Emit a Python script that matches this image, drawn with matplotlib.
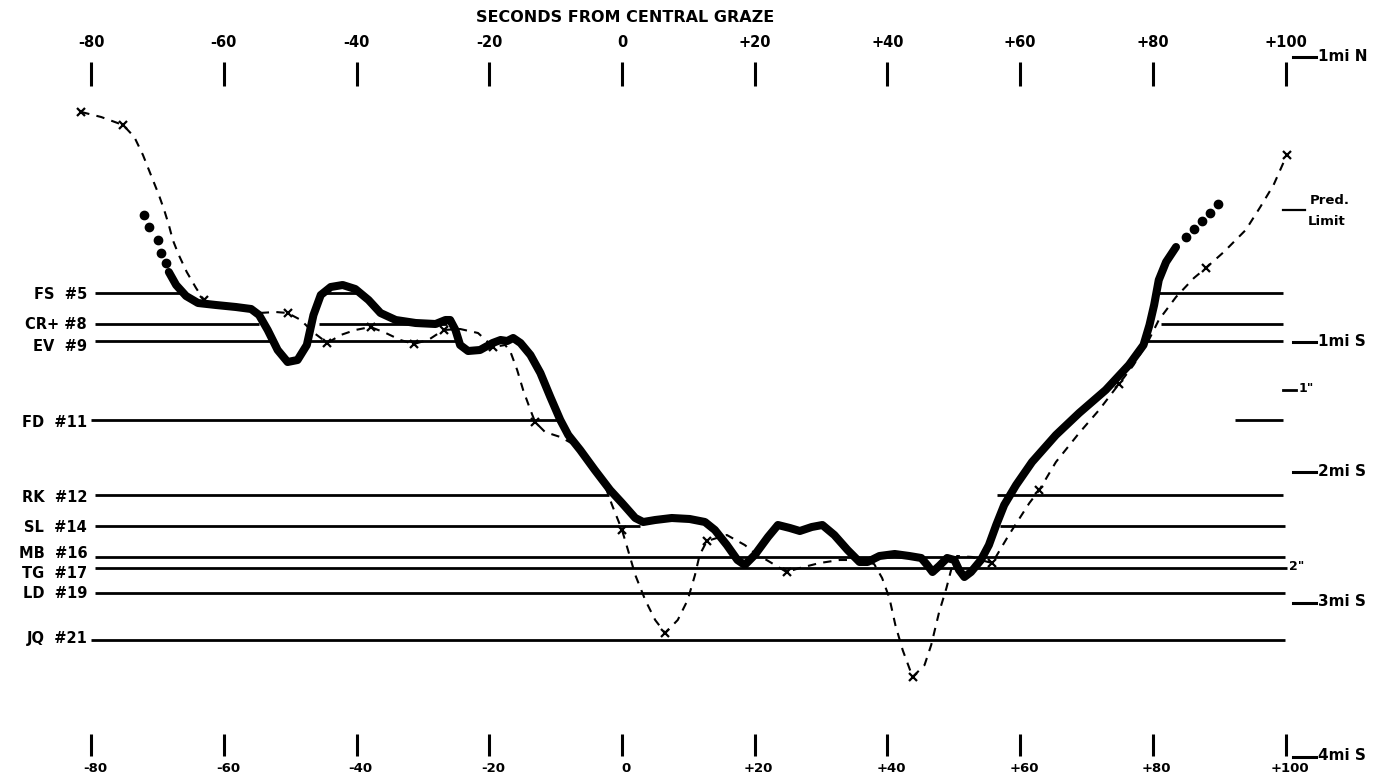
import matplotlib
matplotlib.use("Agg")

import matplotlib.pyplot as plt

# horizontal scale: seconds from central graze
TICK_SECONDS = [-80, -60, -40, -20, 0, 20, 40, 60, 80, 100]
TICK_LABELS = ["-80", "-60", "-40", "-20", "0", "+20", "+40", "+60", "+80", "+100"]

# vertical positions are chart rows (downward)

# observed profile (thick line)
OBS_SEC = [-68.3, -67.2, -65.7, -63.9, -61.2, -58.2, -55.9, -54.7, -53.4, -51.9,
           -50.4, -48.9, -47.5, -46.5, -45.4, -43.9, -42.1, -40.2, -38.2, -36.4,
           -34.1, -31.1, -28.1, -26.6, -25.9, -25.1, -24.4, -23.2, -21.4, -19.5,
           -18.3, -17.3, -16.4, -15.3, -13.8, -12.3, -10.8, -9.3, -8.1, -6.3,
           -4.1, -1.8, 0.0, 2.0, 3.2, 5.0, 7.5, 10.2, 12.5, 14.0,
           15.8, 17.4, 18.5, 20.0, 22.0, 23.5, 25.3, 26.8, 28.6, 30.2,
           32.0, 34.0, 35.8, 37.0, 38.8, 41.1, 43.3, 45.1, 46.0, 46.8,
           47.8, 49.0, 50.1, 50.8, 51.6, 52.6, 54.1, 55.3, 56.4, 57.6,
           59.4, 61.8, 65.4, 68.9, 72.9, 76.4, 78.6, 79.5, 80.2, 80.9,
           82.0, 83.5]
OBS_ROW = [272, 285, 296, 303, 305, 307, 309, 315, 330, 350,
           362, 360, 345, 315, 295, 287, 285, 289, 300, 313,
           320, 323, 324, 320, 320, 330, 345, 351, 350, 343,
           340, 341, 338, 343, 355, 373, 397, 420, 435, 450,
           470, 490, 503, 518, 522, 520, 518, 519, 522, 530,
           545, 560, 565, 555, 537, 525, 528, 531, 527, 525,
           535, 550, 562, 562, 556, 554, 556, 558, 565, 572,
           566, 558, 560, 570, 577, 572, 560, 545, 525, 505,
           485, 462, 435, 413, 390, 365, 345, 325, 305, 280,
           262, 247]

# dotted extensions of the observed profile
DOTS_LEFT_SEC = [-72.0, -71.3, -70.0, -69.5, -68.7]
DOTS_LEFT_ROW = [215, 227, 240, 253, 263]
DOTS_RIGHT_SEC = [85.0, 86.2, 87.4, 88.6, 89.9]
DOTS_RIGHT_ROW = [237, 229, 221, 213, 204]

# predicted profile (dashed)
PRED_SEC = [-81.5, -78.5, -75.2, -73.5, -72.2, -71.0, -69.8, -69.0, -68.3, -67.7,
            -66.8, -65.6, -64.2, -63.0, -61.2, -57.4, -54.7, -52.2, -50.4, -48.4,
            -46.6, -44.4, -42.4, -40.2, -37.9, -35.6, -33.4, -31.4, -29.2, -26.9,
            -24.4, -21.7, -19.4, -17.6, -16.8, -15.8, -14.9, -13.8, -13.1, -11.6,
            -9.3, -7.1, -4.8, -2.6, -1.5, -0.6, 0.0, 0.9, 2.0, 3.5,
            5.0, 6.5, 8.4, 9.9, 11.0, 11.7, 12.8, 15.8, 18.5, 20.0,
            22.3, 24.8, 26.8, 29.8, 32.8, 35.8, 38.0, 39.2, 40.3, 41.2,
            42.3, 43.8, 45.6, 46.6, 47.8, 48.9, 49.6, 50.5, 52.8, 54.6,
            55.8, 58.3, 61.4, 62.9, 65.4, 68.9, 71.9, 74.9, 77.1, 79.4,
            80.9, 83.5, 86.2, 88.0, 90.7, 94.0, 96.2, 98.2, 100.2]
PRED_ROW = [112, 117, 125, 137, 155, 175, 195, 210, 225, 240,
            255, 272, 288, 300, 305, 308, 313, 312, 313, 320,
            332, 343, 335, 330, 327, 333, 340, 344, 340, 330,
            329, 333, 347, 345, 352, 370, 390, 410, 422, 432,
            437, 445, 462, 485, 505, 520, 530, 550, 575, 600,
            620, 633, 620, 600, 575, 555, 541, 535, 545, 553,
            562, 572, 568, 563, 560, 560, 564, 578, 598, 625,
            650, 677, 665, 645, 612, 588, 570, 556, 557, 561,
            563, 535, 503, 490, 462, 433, 410, 384, 365, 340,
            320, 297, 278, 268, 252, 230, 207, 185, 155]

# x marks on the predicted profile
PRED_X_SEC = [-81.5, -75.2, -63.0, -50.4, -44.4, -37.9, -31.4, -26.9, -19.4, -13.1,
              0.0, 6.5, 12.8, 24.8, 43.8, 55.8, 62.9, 74.9, 88.0, 100.2]
PRED_X_ROW = [112, 125, 300, 313, 343, 327, 344, 330, 347, 422,
              530, 633, 541, 572, 677, 563, 490, 384, 268, 155]

# observer chords
STATIONS = ["FS  #5", "CR+ #8", "EV  #9", "FD  #11", "RK  #12",
            "SL  #14", "MB  #16", "TG  #17", "LD  #19", "JQ  #21"]
STATION_ROWS = [293, 324, 341, 420, 495, 526, 557, 568, 593, 640]
STATION_LABEL_ROWS = [294, 324, 346, 422, 497, 527, 554, 574, 594, 639]
STATION_SEGMENTS = [
    [(-79.5, -66.0), (-44.9, -39.5), (80.9, 99.6)],
    [(-79.5, -54.7), (-45.7, -26.3), (81.2, 99.6)],
    [(-79.5, -52.6), (-47.2, -25.0), (79.1, 99.6)],
    [(-80.0, -9.3), (92.4, 99.6)],
    [(-79.5, -2.0), (56.5, 99.6)],
    [(-79.5, 2.7), (56.9, 99.9)],
    [(-79.5, 99.9)],
    [(-79.5, 100.3)],
    [(-79.5, 99.9)],
    [(-80.0, 99.9)],
]

# right-hand distance scale
SCALE_LABELS = ["1mi N", "1mi S", "2mi S", "3mi S", "4mi S"]
SCALE_ROWS = [57, 342, 472, 603, 757]

PX_PER_SEC = 6.635
ZERO_PX = 622
W, H = 1389, 778


def main():
    fig = plt.figure(figsize=(W / 100, H / 100), dpi=100)
    ax = fig.add_axes([0, 0, 1, 1])
    ax.set_xlim(-ZERO_PX / PX_PER_SEC, (W - ZERO_PX) / PX_PER_SEC)
    ax.set_ylim(H, 0)
    ax.axis("off")

    font = dict(family="DejaVu Sans", fontweight="bold", color="black")

    # title and tick marks
    ax.text(0.5, 17, "SECONDS FROM CENTRAL GRAZE", ha="center", va="center",
            fontsize=11.5, **font)
    for s, lab in zip(TICK_SECONDS, TICK_LABELS):
        ax.plot([s, s], [62, 86], color="black", lw=2.2, solid_capstyle="butt")
        ax.plot([s, s], [734, 756], color="black", lw=2.2, solid_capstyle="butt")
        ax.text(s, 42, lab, ha="center", va="center", fontsize=10.5, **font)
        ax.text(s + 0.6, 769, lab, ha="center", va="center", fontsize=9.5, **font)

    # observer chords
    for name, row, lrow, segs in zip(STATIONS, STATION_ROWS, STATION_LABEL_ROWS,
                                     STATION_SEGMENTS):
        for a, b in segs:
            ax.plot([a, b], [row, row], color="black", lw=2.0, solid_capstyle="butt")
        ax.text(-80.6, lrow, name, ha="right", va="center", fontsize=10.5, **font)

    # predicted profile
    pred, = ax.plot(PRED_SEC, PRED_ROW, color="black", lw=1.5)
    pred.set_dashes((4, 3.5))
    ax.plot(PRED_X_SEC, PRED_X_ROW, "x", color="black", ms=6, mew=1.6)

    # observed profile
    ax.plot(OBS_SEC, OBS_ROW, color="black", lw=5.8,
            solid_capstyle="round", solid_joinstyle="round")
    ax.plot(DOTS_LEFT_SEC, DOTS_LEFT_ROW, "o", color="black", ms=6)
    ax.plot(DOTS_RIGHT_SEC, DOTS_RIGHT_ROW, "o", color="black", ms=6)

    # right-hand scale
    for lab, row in zip(SCALE_LABELS, SCALE_ROWS):
        ax.plot([101.2, 104.6], [row, row], color="black", lw=2.2)
        ax.text(104.9, row - 1, lab, ha="left", va="center", fontsize=11, **font)

    ax.plot([99.6, 103.0], [210, 210], color="black", lw=1.6)
    ax.text(103.6, 200, "Pred.", ha="left", va="center", fontsize=9.5, **font)
    ax.text(103.4, 221, "Limit", ha="left", va="center", fontsize=9.5, **font)

    ax.plot([99.6, 101.6], [390, 390], color="black", lw=2.0)
    ax.text(101.9, 388, '1"', ha="left", va="center", fontsize=9, **font)
    ax.text(100.6, 567, '2"', ha="left", va="center", fontsize=9, **font)

    fig.savefig("out.png", dpi=100, facecolor="white")
    plt.close(fig)


if __name__ == "__main__":
    main()
